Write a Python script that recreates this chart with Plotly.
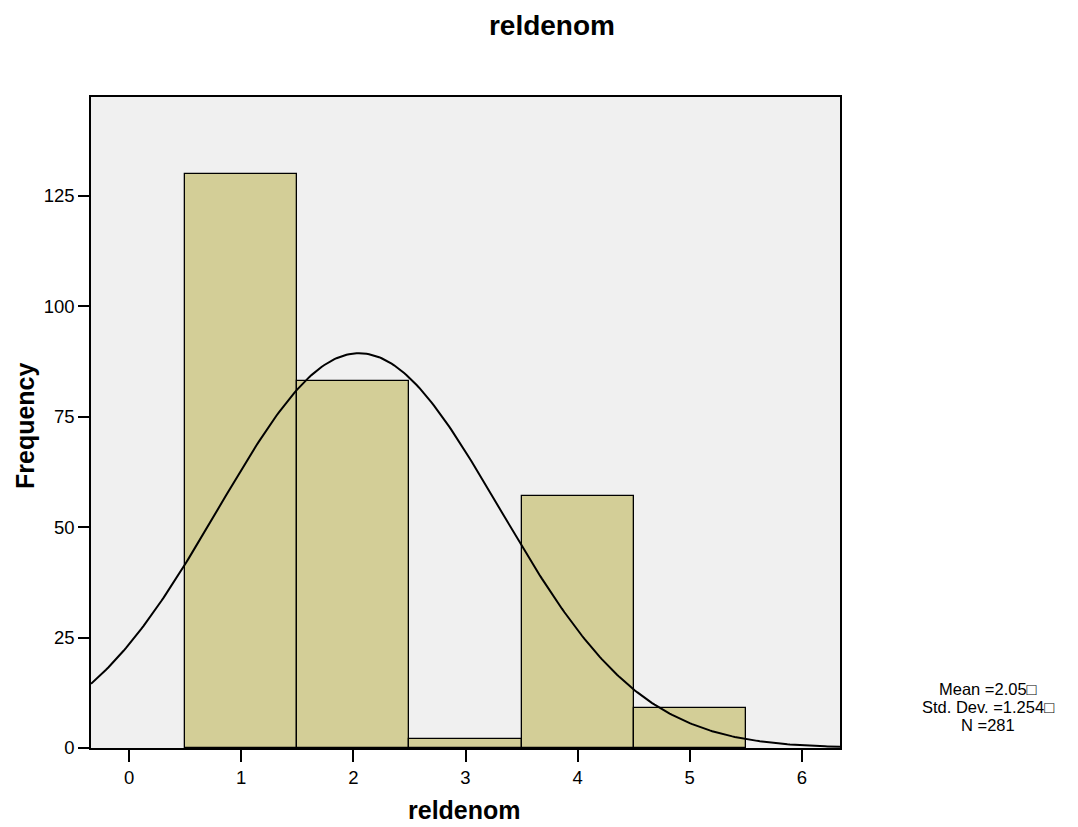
import numpy as np
import plotly.graph_objects as go

# Data
categories = [1, 2, 3, 4, 5]
frequencies = [130, 83, 2, 57, 9]
mean_val = 2.05
std_val = 1.254
n_val = 281
x_ticks = [0, 1, 2, 3, 4, 5, 6]
y_ticks = [0, 25, 50, 75, 100, 125]
stat_lines = [f"Mean ={mean_val:.2f}\u25a1", f"Std. Dev. ={std_val:.3f}\u25a1", f"N ={n_val}"]

x_range = [-0.34, 6.34]
y_range = [0, 147.4]

# Normal curve from the stated statistics (bin width 1)
xs = np.linspace(x_range[0], x_range[1], 300)
ys = n_val * 1.0 * np.exp(-0.5 * ((xs - mean_val) / std_val) ** 2) / (std_val * np.sqrt(2 * np.pi))

font_family = "Liberation Sans, Arial, sans-serif"

fig = go.Figure()
fig.add_trace(go.Bar(
    x=categories, y=frequencies, width=1.0,
    marker=dict(color="#d3ce97", line=dict(color="black", width=1.3)),
    showlegend=False, hoverinfo="x+y",
))
fig.add_trace(go.Scatter(
    x=xs, y=ys, mode="lines",
    line=dict(color="black", width=2),
    showlegend=False, hoverinfo="skip",
))

annotations = []
for i, line in enumerate(stat_lines):
    annotations.append(dict(
        text=line, xref="paper", yref="paper",
        x=1.1976, y=0.0906 - i * 0.0278,
        xanchor="center", yanchor="middle", showarrow=False,
        font=dict(size=16.5, family=font_family, color="black"),
    ))
# axis titles
annotations.append(dict(
    text="<b>reldenom</b>", xref="paper", yref="paper", x=0.498, y=-0.0952,
    xanchor="center", yanchor="middle", showarrow=False,
    font=dict(size=25, family=font_family, color="black"),
))
annotations.append(dict(
    text="<b>Frequency</b>", xref="paper", yref="paper", x=-0.0881, y=0.4946,
    xanchor="center", yanchor="middle", showarrow=False, textangle=-90,
    font=dict(size=25, family=font_family, color="black"),
))

fig.update_layout(
    width=1078, height=827,
    margin=dict(l=91, r=238, t=97, b=79, autoexpand=False),
    paper_bgcolor="white",
    plot_bgcolor="#f0f0f0",
    bargap=0,
    font=dict(family=font_family, color="black"),
    title=dict(text="<b>reldenom</b>", x=0.512, xanchor="center", y=0.97, yanchor="middle",
               font=dict(size=28, family=font_family, color="black")),
    xaxis=dict(
        range=x_range, tickvals=x_ticks, ticktext=[str(t) for t in x_ticks],
        showgrid=False, zeroline=False, automargin=False,
        showline=True, linecolor="black", linewidth=1.5, mirror=True,
        ticks="outside", ticklen=12, tickwidth=2, tickcolor="black",
        tickfont=dict(size=18.5, family=font_family, color="black"),
    ),
    yaxis=dict(
        range=y_range, tickvals=y_ticks, ticktext=[str(t) for t in y_ticks],
        showgrid=False, zeroline=False, automargin=False,
        showline=True, linecolor="black", linewidth=1.5, mirror=True,
        ticks="outside", ticklen=11, tickwidth=2, tickcolor="black",
        tickfont=dict(size=18.5, family=font_family, color="black"),
    ),
    annotations=annotations,
)

fig.write_html("out.html")
